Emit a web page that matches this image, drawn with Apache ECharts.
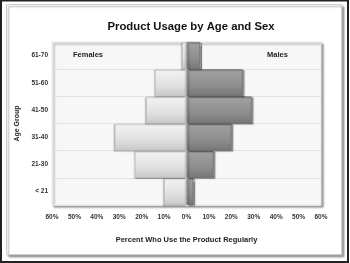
<!DOCTYPE html>
<html>
<head>
<meta charset="utf-8">
<script src="https://cdn.jsdelivr.net/npm/echarts@6/dist/echarts.min.js"></script>
<style>
html,body{margin:0;padding:0;background:#fff;}
#c{width:350px;height:263px;}
</style>
</head>
<body>
<div id="c"></div>
<script>
var categories = ['< 21', '21-30', '31-40', '41-50', '51-60', '61-70'];
var females = [10, 23, 32, 18, 14, 2];
var males = [3, 12, 20, 29, 25, 6];
var tickMin = -60, tickMax = 60, tickStep = 10;

var chart = echarts.init(document.getElementById('c'), null, {renderer: 'canvas'});
var F = 'Liberation Sans, Arial, sans-serif';
chart.setOption({
  animation: false,
  backgroundColor: '#fff',
  title: {
    text: 'Product Usage by Age and Sex',
    left: 186, top: 16, textAlign: 'center',
    textStyle: {fontFamily: F, fontSize: 11.3, fontWeight: 'bold', color: '#111'}
  },
  graphic: [
    {type: 'rect', shape: {x: 1, y: 0.5, width: 347, height: 261.5}, style: {fill: 'none', stroke: '#222', lineWidth: 2}, z: 100},
    {type: 'rect', shape: {x: 6.5, y: 4.5, width: 335, height: 250}, style: {fill: '#fff', stroke: '#cfcfcf', lineWidth: 1, shadowColor: 'rgba(0,0,0,0.35)', shadowOffsetX: 2, shadowOffsetY: 2, shadowBlur: 2}, z: -10},
    {type: 'text', left: 73, top: 51, style: {text: 'Females', font: 'bold 7.5px ' + F, fill: '#222'}, z: 50},
    {type: 'text', left: 267, top: 51, style: {text: 'Males', font: 'bold 7.5px ' + F, fill: '#222'}, z: 50}
  ],
  grid: {
    left: 52, right: 29, top: 42, bottom: 58,
    show: true, backgroundColor: '#f7f7f7', borderColor: '#e6e6e6', borderWidth: 1,
    shadowColor: 'rgba(0,0,0,0.4)', shadowOffsetX: 2, shadowOffsetY: 2, shadowBlur: 2
  },
  xAxis: {
    type: 'value', min: tickMin, max: tickMax, interval: tickStep,
    name: 'Percent Who Use the Product Regularly', nameLocation: 'middle', nameGap: 31,
    nameTextStyle: {fontFamily: F, fontSize: 7.5, fontWeight: 'bold', color: '#222'},
    axisLine: {show: false}, axisTick: {show: false}, splitLine: {show: false},
    axisLabel: {
      margin: 9, fontFamily: F, fontSize: 6.5, fontWeight: 'bold', color: '#333',
      formatter: function (v) { return Math.abs(v) + '%'; }
    }
  },
  yAxis: {
    type: 'category', data: categories,
    name: 'Age Group', nameLocation: 'middle', nameGap: 29, nameRotate: 90,
    nameTextStyle: {fontFamily: F, fontSize: 7, fontWeight: 'bold', color: '#222'},
    axisLine: {show: false}, axisTick: {show: false},
    splitLine: {show: true, lineStyle: {color: '#e2e2e2', width: 1}},
    axisLabel: {margin: 4, fontFamily: F, fontSize: 6.5, fontWeight: 'bold', color: '#333'}
  },
  series: [
    {
      name: 'Females', type: 'bar', barWidth: '100%', barGap: '-100%',
      data: females.map(function (v) { return -v; }),
      itemStyle: {
        color: new echarts.graphic.LinearGradient(0, 0, 0, 1, [
          {offset: 0, color: '#f4f4f4'}, {offset: 0.6, color: '#e0e0e0'}, {offset: 1, color: '#c8c8c8'}
        ]),
        borderColor: '#bcbcbc', borderWidth: 0.6,
        shadowColor: 'rgba(0,0,0,0.25)', shadowOffsetX: -1, shadowOffsetY: 1, shadowBlur: 1
      }
    },
    {
      name: 'Males', type: 'bar', barWidth: '100%', barGap: '-100%',
      data: males,
      itemStyle: {
        color: new echarts.graphic.LinearGradient(0, 0, 0, 1, [
          {offset: 0, color: '#a2a2a2'}, {offset: 0.6, color: '#8e8e8e'}, {offset: 1, color: '#767676'}
        ]),
        borderColor: '#6a6a6a', borderWidth: 0.6,
        shadowColor: 'rgba(0,0,0,0.4)', shadowOffsetX: 2, shadowOffsetY: 1, shadowBlur: 1
      }
    }
  ]
});
</script>
</body>
</html>
